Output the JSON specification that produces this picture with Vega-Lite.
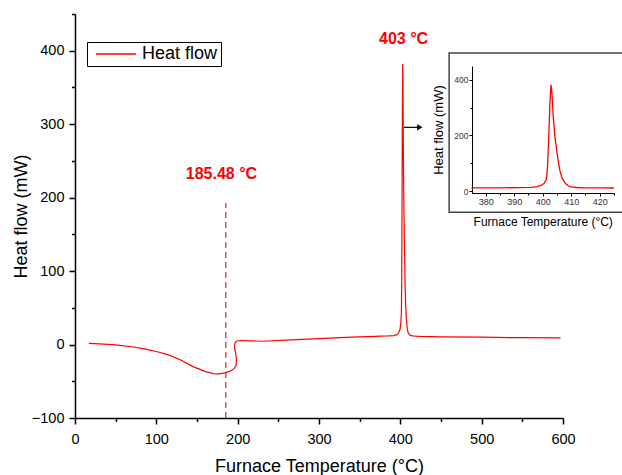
{
  "$schema": "https://vega.github.io/schema/vega-lite/v6.json",
  "width": 488,
  "height": 404,
  "autosize": {"type": "none"},
  "padding": {"left": 75, "top": 14, "right": 59, "bottom": 57},
  "background": "white",
  "datasets": {
    "hf": [
      {"i": 0, "T": 17, "v": 1.5},
      {"i": 1, "T": 30, "v": 1},
      {"i": 2, "T": 50, "v": -0.5},
      {"i": 3, "T": 70, "v": -3},
      {"i": 4, "T": 85, "v": -6},
      {"i": 5, "T": 100, "v": -9.5},
      {"i": 6, "T": 115, "v": -14},
      {"i": 7, "T": 130, "v": -21},
      {"i": 8, "T": 145, "v": -30},
      {"i": 9, "T": 160, "v": -36.5},
      {"i": 10, "T": 170, "v": -39.5},
      {"i": 11, "T": 177, "v": -40},
      {"i": 12, "T": 184, "v": -38.5},
      {"i": 13, "T": 190, "v": -36.5},
      {"i": 14, "T": 195, "v": -33.5},
      {"i": 15, "T": 198, "v": -29},
      {"i": 16, "T": 198.5, "v": -20},
      {"i": 17, "T": 197.5, "v": -12},
      {"i": 18, "T": 196.2, "v": -5},
      {"i": 19, "T": 196.3, "v": 1},
      {"i": 20, "T": 198, "v": 4.5},
      {"i": 21, "T": 203, "v": 5.5},
      {"i": 22, "T": 215, "v": 5},
      {"i": 23, "T": 230, "v": 4.5},
      {"i": 24, "T": 260, "v": 6},
      {"i": 25, "T": 300, "v": 8},
      {"i": 26, "T": 340, "v": 10},
      {"i": 27, "T": 370, "v": 11.2},
      {"i": 28, "T": 375, "v": 11.5},
      {"i": 29, "T": 385, "v": 11.8},
      {"i": 30, "T": 392, "v": 12.2},
      {"i": 31, "T": 396, "v": 13.5},
      {"i": 32, "T": 398, "v": 16},
      {"i": 33, "T": 399.5, "v": 20},
      {"i": 34, "T": 400.5, "v": 28},
      {"i": 35, "T": 401.3, "v": 42},
      {"i": 36, "T": 401.7, "v": 90},
      {"i": 37, "T": 402.1, "v": 190},
      {"i": 38, "T": 402.5, "v": 310},
      {"i": 39, "T": 402.9, "v": 382},
      {"i": 40, "T": 403.2, "v": 360},
      {"i": 41, "T": 403.7, "v": 265},
      {"i": 42, "T": 404.3, "v": 195},
      {"i": 43, "T": 404.9, "v": 146},
      {"i": 44, "T": 405.5, "v": 105},
      {"i": 45, "T": 406, "v": 75},
      {"i": 46, "T": 406.6, "v": 52},
      {"i": 47, "T": 407.2, "v": 39},
      {"i": 48, "T": 408, "v": 27},
      {"i": 49, "T": 408.9, "v": 19},
      {"i": 50, "T": 410, "v": 15},
      {"i": 51, "T": 412, "v": 12.8},
      {"i": 52, "T": 415, "v": 11.8},
      {"i": 53, "T": 420, "v": 11.3},
      {"i": 54, "T": 425, "v": 11},
      {"i": 55, "T": 450, "v": 10.5},
      {"i": 56, "T": 500, "v": 10},
      {"i": 57, "T": 550, "v": 9.3},
      {"i": 58, "T": 597, "v": 9}
    ]
  },
  "layer": [
    {
      "layer": [
        {
          "data": {"name": "hf"},
          "mark": {"type": "line", "color": "#ff0000", "strokeWidth": 1.2},
          "encoding": {
            "x": {"field": "T", "type": "quantitative",
              "scale": {"domain": [0, 600], "nice": false, "zero": false}, "axis": null},
            "y": {"field": "v", "type": "quantitative",
              "scale": {"domain": [-100, 450], "nice": false, "zero": false}, "axis": null},
            "order": {"field": "i", "type": "quantitative"},
            "color": {"datum": "Heat flow", "scale": {"range": ["#ff0000"]},
              "legend": {"orient": "none", "legendX": 12, "legendY": 28, "title": null, "strokeColor": "black",
                "padding": 3, "symbolType": "M-2.5,0H2.5", "symbolSize": 256, "symbolStrokeWidth": 1.5,
                "symbolOffset": 17, "labelOffset": 17, "labelFontSize": 18, "labelColor": "black"}}
          }
        },
        {
          "data": {"values": [{"T": 185.48, "v": -100, "v2": 192.7}]},
          "mark": {"type": "rule", "color": "#cc0000", "strokeWidth": 1, "strokeDash": [6, 4]},
          "encoding": {
            "x": {"field": "T", "type": "quantitative", "axis": null},
            "y": {"field": "v", "type": "quantitative", "axis": null},
            "y2": {"field": "v2"}
          }
        },
        {
          "data": {"values": [{"T": 404, "v": 416, "label": "403 °C"}, {"T": 180.1, "v": 232, "label": "185.48 °C"}]},
          "mark": {"type": "text", "color": "#ff0000", "fontWeight": "bold", "fontSize": 16, "align": "center", "baseline": "middle"},
          "encoding": {
            "x": {"field": "T", "type": "quantitative", "axis": null},
            "y": {"field": "v", "type": "quantitative", "axis": null},
            "text": {"field": "label"}
          }
        },
        {
          "data": {"values": [{"T": 404.5, "T2": 421, "v": 295.7}]},
          "mark": {"type": "rule", "color": "black", "strokeWidth": 1.2},
          "encoding": {
            "x": {"field": "T", "type": "quantitative", "axis": null},
            "x2": {"field": "T2"},
            "y": {"field": "v", "type": "quantitative", "axis": null}
          }
        },
        {
          "data": {"values": [{"T": 424, "v": 295.7}]},
          "mark": {"type": "point", "shape": "triangle-right", "filled": true, "color": "black", "size": 40, "opacity": 1},
          "encoding": {
            "x": {"field": "T", "type": "quantitative", "axis": null},
            "y": {"field": "v", "type": "quantitative", "axis": null}
          }
        },
        {
          "data": {"values": [{"T": 460, "T2": 690, "v": 180, "v2": 397}]},
          "mark": {"type": "rect", "fill": null, "stroke": "#444444", "strokeWidth": 1.5},
          "encoding": {
            "x": {"field": "T", "type": "quantitative", "axis": null},
            "x2": {"field": "T2"},
            "y": {"field": "v", "type": "quantitative", "axis": null},
            "y2": {"field": "v2"}
          }
        }
      ]
    },
    {
      "data": {"name": "hf"},
      "mark": {"type": "point", "opacity": 0},
      "encoding": {
        "x": {"field": "T", "type": "quantitative",
          "scale": {"domain": [0, 600], "nice": false, "zero": false},
          "axis": {"orient": "bottom", "values": [0, 100, 200, 300, 400, 500, 600], "title": "Furnace Temperature (°C)",
            "tickSize": 6, "tickWidth": 1.5, "domainWidth": 1.5, "labelFontSize": 14.5, "labelPadding": 8,
            "titleFontSize": 18, "titlePadding": 12, "labelFlush": false}},
        "y": {"field": "v", "type": "quantitative",
          "scale": {"domain": [-100, 450], "nice": false, "zero": false},
          "axis": {"orient": "left", "values": [-100, 0, 100, 200, 300, 400], "title": "Heat flow (mW)",
            "tickSize": 6, "tickWidth": 1.5, "domainWidth": 1.5, "labelFontSize": 14.5, "labelPadding": 5,
            "titleFontSize": 18, "titlePadding": 1, "labelFlush": false}}
      }
    },
    {
      "data": {"name": "hf"},
      "mark": {"type": "point", "opacity": 0},
      "encoding": {
        "x": {"field": "T", "type": "quantitative",
          "scale": {"domain": [0, 600], "nice": false, "zero": false},
          "axis": {"orient": "bottom", "values": [50, 150, 250, 350, 450, 550], "labels": false, "domain": false,
            "tickSize": 3.5, "tickWidth": 1.5, "title": null}},
        "y": {"field": "v", "type": "quantitative",
          "scale": {"domain": [-100, 450], "nice": false, "zero": false},
          "axis": {"orient": "left", "values": [-50, 50, 150, 250, 350, 450], "labels": false, "domain": false,
            "tickSize": 3.5, "tickWidth": 1.5, "title": null}}
      }
    },
    {
      "data": {"name": "hf"},
      "transform": [{"filter": "datum.T >= 375 && datum.T <= 425"}],
      "mark": {"type": "line", "color": "#ff0000", "strokeWidth": 1.3},
      "encoding": {
        "x": {"field": "T", "type": "quantitative",
          "scale": {"domain": [375, 425], "range": [396.4, 539], "nice": false, "zero": false},
          "axis": {"orient": "bottom", "offset": -225, "values": [380, 390, 400, 410, 420], "title": "Furnace Temperature (°C)",
            "tickSize": 3, "tickWidth": 1, "domainWidth": 1, "labelFontSize": 9, "labelColor": "#333333", "labelPadding": 1,
            "titleFontSize": 12, "titlePadding": 10, "labelFlush": false}},
        "y": {"field": "v", "type": "quantitative",
          "scale": {"domain": [-7, 450], "range": [179, 52], "nice": false, "zero": false},
          "axis": {"orient": "left", "offset": -397, "values": [0, 200, 400], "title": "Heat flow (mW)",
            "tickSize": 3, "tickWidth": 1, "domainWidth": 1, "labelFontSize": 8.5, "labelColor": "#333333", "labelPadding": 1,
            "titleFontSize": 13, "titlePadding": 8, "labelFlush": false}}
      }
    },
    {
      "data": {"name": "hf"},
      "transform": [{"filter": "datum.T >= 375 && datum.T <= 425"}],
      "mark": {"type": "point", "opacity": 0},
      "encoding": {
        "x": {"field": "T", "type": "quantitative",
          "scale": {"domain": [375, 425], "range": [396.4, 539], "nice": false, "zero": false},
          "axis": {"orient": "bottom", "offset": -225, "values": [385, 395, 405, 415, 425], "labels": false, "domain": false,
            "tickSize": 2, "tickWidth": 1, "title": null}},
        "y": {"field": "v", "type": "quantitative",
          "scale": {"domain": [-7, 450], "range": [179, 52], "nice": false, "zero": false},
          "axis": {"orient": "left", "offset": -397, "values": [100, 300], "labels": false, "domain": false,
            "tickSize": 2, "tickWidth": 1, "title": null}}
      }
    }
  ],
  "resolve": {"scale": {"x": "independent", "y": "independent"}},
  "config": {
    "font": "Liberation Sans",
    "view": {"stroke": null},
    "axis": {"grid": false, "domainColor": "black", "tickColor": "black", "labelColor": "black", "titleColor": "black",
      "titleFontWeight": "normal", "labelFont": "Liberation Sans", "titleFont": "Liberation Sans"},
    "legend": {"labelFont": "Liberation Sans"},
    "text": {"font": "Liberation Sans"}
  }
}
